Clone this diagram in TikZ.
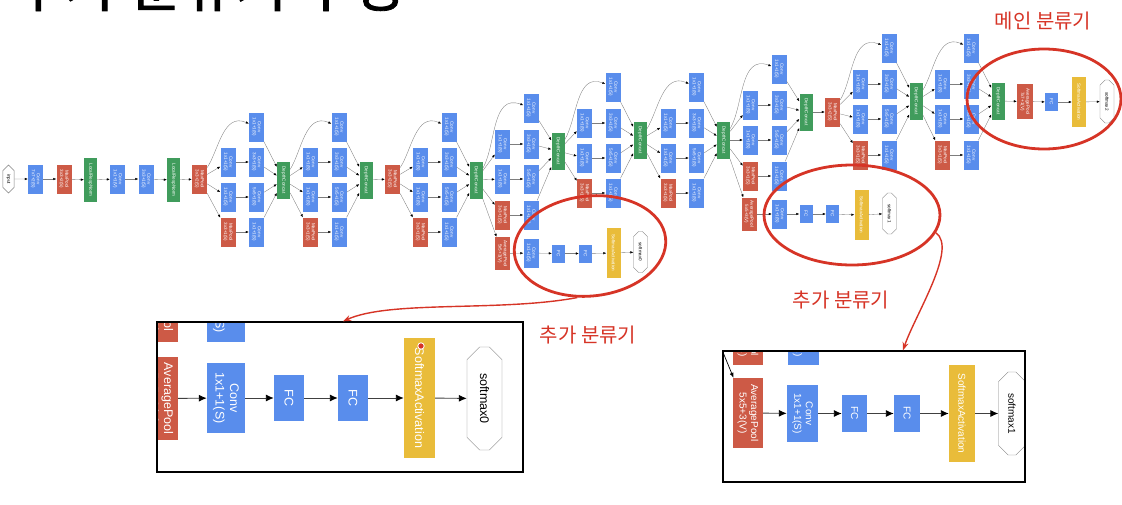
\documentclass[tikz,border=0pt]{standalone}
\usepackage{fontspec}
\setmainfont{Liberation Sans}
\newfontfamily\krfont{Noto Sans CJK KR}
\newfontfamily\krtitle[FakeBold=1.5]{Noto Sans CJK KR}
\usepackage{tikz}
\usetikzlibrary{arrows.meta,positioning,shapes.geometric,shapes.misc}
\definecolor{netblue}{RGB}{89,141,236}
\definecolor{netred}{RGB}{205,90,70}
\definecolor{netgreen}{RGB}{64,156,92}
\definecolor{netyellow}{RGB}{233,188,58}
\definecolor{markred}{RGB}{214,52,38}
\definecolor{linegray}{RGB}{125,125,125}

% one inception block: name, previous node, x of first column, rows (top, 2, 3, 4), y of concat
\newcommand{\incblock}[8]{%
  \node[conv] (#1-top) at ({#3+28.5},#4) {Conv\\1x1+1(S)};
  \node[conv] (#1-b1) at (#3,#5) {Conv\\1x1+1(S)};
  \node[conv] (#1-b2) at ({#3+28.5},#5) {Conv\\3x3+1(S)};
  \node[conv] (#1-c1) at (#3,#6) {Conv\\1x1+1(S)};
  \node[conv] (#1-c2) at ({#3+28.5},#6) {Conv\\5x5+1(S)};
  \node[pool] (#1-d1) at (#3,#7) {MaxPool\\3x3+1(S)};
  \node[conv] (#1-d2) at ({#3+28.5},#7) {Conv\\1x1+1(S)};
  \node[concat] (#1-dc) at ({#3+55.5},#8) {DepthConcat};
  \draw[arrow] (#2) to[out=70,in=180] (#1-top);
  \draw[arrow] (#2) -- (#1-b1);
  \draw[arrow] (#2) -- (#1-c1);
  \draw[arrow] (#2) -- (#1-d1);
  \draw[arrow] (#1-b1) -- (#1-b2);
  \draw[arrow] (#1-c1) -- (#1-c2);
  \draw[arrow] (#1-d1) -- (#1-d2);
  \draw[arrow] (#1-top) -- (#1-dc);
  \draw[arrow] (#1-b2) -- (#1-dc);
  \draw[arrow] (#1-c2) -- (#1-dc);
  \draw[arrow] (#1-d2) -- (#1-dc);
}

\begin{document}
\begin{tikzpicture}[x=1pt, y=-1pt,
    font=\fontsize{4.6}{5.2}\selectfont,
    netbox/.style={rotate=-90, inner sep=0pt, align=center, text=white},
    conv/.style={netbox, fill=netblue, minimum width=29pt, minimum height=15pt},
    pool/.style={netbox, fill=netred, minimum width=29pt, minimum height=15pt},
    concat/.style={netbox, fill=netgreen, minimum width=37pt, minimum height=13pt},
    lrn/.style={netbox, fill=netgreen, minimum width=44pt, minimum height=13pt},
    fc/.style={netbox, fill=netblue, minimum width=18pt, minimum height=13pt},
    act/.style={netbox, fill=netyellow, minimum width=50pt, minimum height=14pt},
    octa/.style={rotate=-90, chamfered rectangle, chamfered rectangle xsep=8pt, chamfered rectangle ysep=3.5pt, draw=gray, fill=white, inner sep=0pt, text=black, minimum width=41pt, minimum height=14pt},
    arrow/.style={-{Latex[length=3pt,width=2.4pt,color=black]}, draw=linegray, line width=0.35pt},
    bigarrow/.style={-{Latex[length=8pt,width=7pt,color=black]}, draw=darkgray, line width=0.9pt},
    ring/.style={draw=markred, line width=2.8pt, ellipse},
    remark/.style={text=markred, font=\krfont\fontsize{20}{24}\selectfont},
    redarrow/.style={-{Stealth[length=8pt,width=6pt]}, draw=markred, line width=1.4pt},
    inset/.style={draw=black, line width=1.3pt}
  ]
  \useasboundingbox (0,0) rectangle (1122,504);
  \clip (0,0) rectangle (1122,504);

  % title, cut at the top edge
  \node[anchor=base west, inner sep=0pt, font=\krtitle\fontsize{57}{62}\selectfont] (title) at (12,6.5) {추가 분류기 구성};

  % stem
  \node[octa, minimum width=28pt, minimum height=11pt] (input) at (8.5,179) {input};
  \node[conv] (conv1) at (35.5,179) {Conv\\7x7+2(S)};
  \node[pool] (pool1) at (64,179) {MaxPool\\3x3+2(S)};
  \node[lrn] (lrn1) at (90.5,180) {LocalRespNorm};
  \node[conv] (conv2) at (117.5,179) {Conv\\1x1+1(V)};
  \node[conv] (conv3) at (146,179) {Conv\\3x3+1(S)};
  \node[lrn] (lrn2) at (173.5,180) {LocalRespNorm};
  \node[pool] (pool2) at (199.5,179) {MaxPool\\3x3+2(S)};
  \draw[arrow] (input) -- (conv1);
  \draw[arrow] (conv1) -- (pool1);
  \draw[arrow] (pool1) -- (lrn1);
  \draw[arrow] (lrn1) -- (conv2);
  \draw[arrow] (conv2) -- (conv3);
  \draw[arrow] (conv3) -- (lrn2);
  \draw[arrow] (lrn2) -- (pool2);

  % inception blocks
  \incblock{i3a}{pool2}{228}{127}{162}{197}{232}{180}
  \incblock{i3b}{i3a-dc}{310.5}{127}{162}{197}{232}{180}
  \node[pool] (pool3) at (392.5,179) {MaxPool\\3x3+2(S)};
  \draw[arrow] (i3b-dc) -- (pool3);
  \incblock{i4a}{pool3}{420.5}{127}{162}{197}{232}{180}
  \incblock{i4b}{i4a-dc}{502.5}{108}{144}{179}{215}{151}
  \incblock{i4c}{i4b-dc}{584.5}{87}{123}{158}{193}{140}
  \incblock{i4d}{i4c-dc}{668}{87}{123}{158}{193}{140}
  \incblock{i4e}{i4d-dc}{750.5}{69}{105}{140}{176}{112}
  \node[pool] (pool4) at (832.5,112) {MaxPool\\3x3+2(S)};
  \draw[arrow] (i4e-dc) -- (pool4);
  \incblock{i5a}{pool4}{860.5}{48}{84}{119}{155}{101}
  \incblock{i5b}{i5a-dc}{942.5}{48}{84}{119}{155}{101}

  % first extra head
  \node[pool, minimum width=33pt] (avg0) at (502.5,253.5) {AveragePool\\5x5+3(V)};
  \node[conv] (aconv0) at (531,253) {Conv\\1x1+1(S)};
  \node[fc] (fc0a) at (558.5,253.5) {FC};
  \node[fc] (fc0b) at (585.5,253.5) {FC};
  \node[act] (act0) at (613.5,253) {SoftmaxActivation};
  \node[octa] (soft0) at (640.5,252) {softmax0};
  \draw[arrow] (i4a-dc) -- (avg0);
  \draw[arrow] (avg0) -- (aconv0);
  \draw[arrow] (aconv0) -- (fc0a);
  \draw[arrow] (fc0a) -- (fc0b);
  \draw[arrow] (fc0b) -- (act0);
  \draw[arrow] (act0) -- (soft0);

  % second extra head
  \node[pool, minimum width=33pt] (avg1) at (749,214) {AveragePool\\5x5+3(V)};
  \node[conv] (aconv1) at (779.5,214) {Conv\\1x1+1(S)};
  \node[fc] (fc1a) at (806,214) {FC};
  \node[fc] (fc1b) at (832.5,214) {FC};
  \node[act] (act1) at (861.5,215) {SoftmaxActivation};
  \node[octa] (soft1) at (889.5,213.5) {softmax1};
  \draw[arrow] (i4d-dc) -- (avg1);
  \draw[arrow] (avg1) -- (aconv1);
  \draw[arrow] (aconv1) -- (fc1a);
  \draw[arrow] (fc1a) -- (fc1b);
  \draw[arrow] (fc1b) -- (act1);
  \draw[arrow] (act1) -- (soft1);

  % main head
  \node[pool, minimum width=35pt, minimum height=16pt] (avg2) at (1025,101.5) {AveragePool\\7x7+1(V)};
  \node[fc] (fc2) at (1051.5,102) {FC};
  \node[act] (act2) at (1079,102) {SoftmaxActivation};
  \node[octa, minimum width=43pt] (soft2) at (1107,101.5) {softmax2};
  \draw[arrow] (i5b-dc) -- (avg2);
  \draw[arrow] (avg2) -- (fc2);
  \draw[arrow] (fc2) -- (act2);
  \draw[arrow] (act2) -- (soft2);

  % red marks
  \node[ring, minimum width=154pt, minimum height=100pt] (ringmain) at (1044,99) {};
  \node[ring, rotate=6, minimum width=152pt, minimum height=100pt] (ringaux0) at (590,246) {};
  \node[ring, minimum width=176pt, minimum height=100pt] (ringaux1) at (852,215) {};
  \node[remark] (lblmain) at (1043,21) {메인 분류기};
  \node[remark] (lblaux0) at (588,335) {추가 분류기};
  \node[remark] (lblaux1) at (841,300) {추가 분류기};

  % zoomed view of the first extra head
  \begin{scope}[font=\fontsize{12.5}{14.5}\selectfont]
    \clip (157,322) rectangle (523,472);
    \node[pool, minimum width=70pt, minimum height=36pt] (zpool0) at (160,307) {MaxPool\\3x3+1(S)};
    \node[conv, minimum width=70pt, minimum height=38pt] (ztop0) at (226,307) {Conv\\1x1+1(S)};
    \node[pool, minimum width=83pt, minimum height=36pt] (zavg0) at (160,398.5) {AveragePool\\5x5+3(V)};
    \node[conv, minimum width=70pt, minimum height=38pt] (zconv0) at (226,398) {Conv\\1x1+1(S)};
    \node[fc, minimum width=46pt, minimum height=30pt] (zfc0a) at (289,398) {FC};
    \node[fc, minimum width=46pt, minimum height=30pt] (zfc0b) at (353,398) {FC};
    \node[act, minimum width=120pt, minimum height=31pt] (zact0) at (419.5,398) {SoftmaxActivation};
    \node[octa, minimum width=103pt, minimum height=35pt, chamfered rectangle xsep=20pt, chamfered rectangle ysep=8pt] (zsoft0) at (484.5,398.5) {softmax0};
    \draw[bigarrow] (zavg0) -- (zconv0);
    \draw[bigarrow] (zconv0) -- (zfc0a);
    \draw[bigarrow] (zfc0a) -- (zfc0b);
    \draw[bigarrow] (zfc0b) -- (zact0);
    \draw[bigarrow] (zact0) -- (zsoft0);
    \fill[markred, draw=white, line width=0.8pt] (421,346) circle (3.2);
  \end{scope}
  \node[inset, minimum width=366pt, minimum height=150pt] (inset0) at (340,397) {};

  % zoomed view of the second extra head
  \begin{scope}[font=\fontsize{10}{11.5}\selectfont]
    \clip (723,351) rectangle (1025,482);
    \node[pool, minimum width=57pt, minimum height=30pt] (zpool1) at (748,336.5) {MaxPool\\3x3+1(S)};
    \node[conv, minimum width=57pt, minimum height=31pt] (ztop1) at (803,336.5) {Conv\\1x1+1(S)};
    \node[pool, minimum width=70pt, minimum height=30pt] (zavg1) at (748,413) {AveragePool\\5x5+3(V)};
    \node[conv, minimum width=57pt, minimum height=31pt] (zconv1) at (802.5,413.5) {Conv\\1x1+1(S)};
    \node[fc, minimum width=37pt, minimum height=25pt] (zfc1a) at (854.5,413.5) {FC};
    \node[fc, minimum width=37pt, minimum height=26pt] (zfc1b) at (907,413.5) {FC};
    \node[act, minimum width=97pt, minimum height=26pt] (zact1) at (962,413.5) {SoftmaxActivation};
    \node[octa, minimum width=83pt, minimum height=27pt, chamfered rectangle xsep=16pt, chamfered rectangle ysep=6pt] (zsoft1) at (1012,413.5) {softmax1};
    \coordinate (zin1) at (713,328);
    \draw[-{Latex[length=5pt,width=4pt]}, line width=0.7pt] (zin1) -- (zavg1);
    \draw[bigarrow] (zavg1) -- (zconv1);
    \draw[bigarrow] (zconv1) -- (zfc1a);
    \draw[bigarrow] (zfc1a) -- (zfc1b);
    \draw[bigarrow] (zfc1b) -- (zact1);
    \draw[bigarrow] (zact1) -- (zsoft1);
  \end{scope}
  \node[inset, minimum width=302pt, minimum height=131pt] (inset1) at (874,416.5) {};

  % pointers from the rings to the zoomed views
  \draw[redarrow] (ringaux0.250) .. controls (500,312) and (390,300) .. ([xshift=3pt]inset0.north);
  \draw[redarrow] (ringaux1.-12) .. controls (958,248) and (915,315) .. ([xshift=29pt]inset1.north);
\end{tikzpicture}
\end{document}
